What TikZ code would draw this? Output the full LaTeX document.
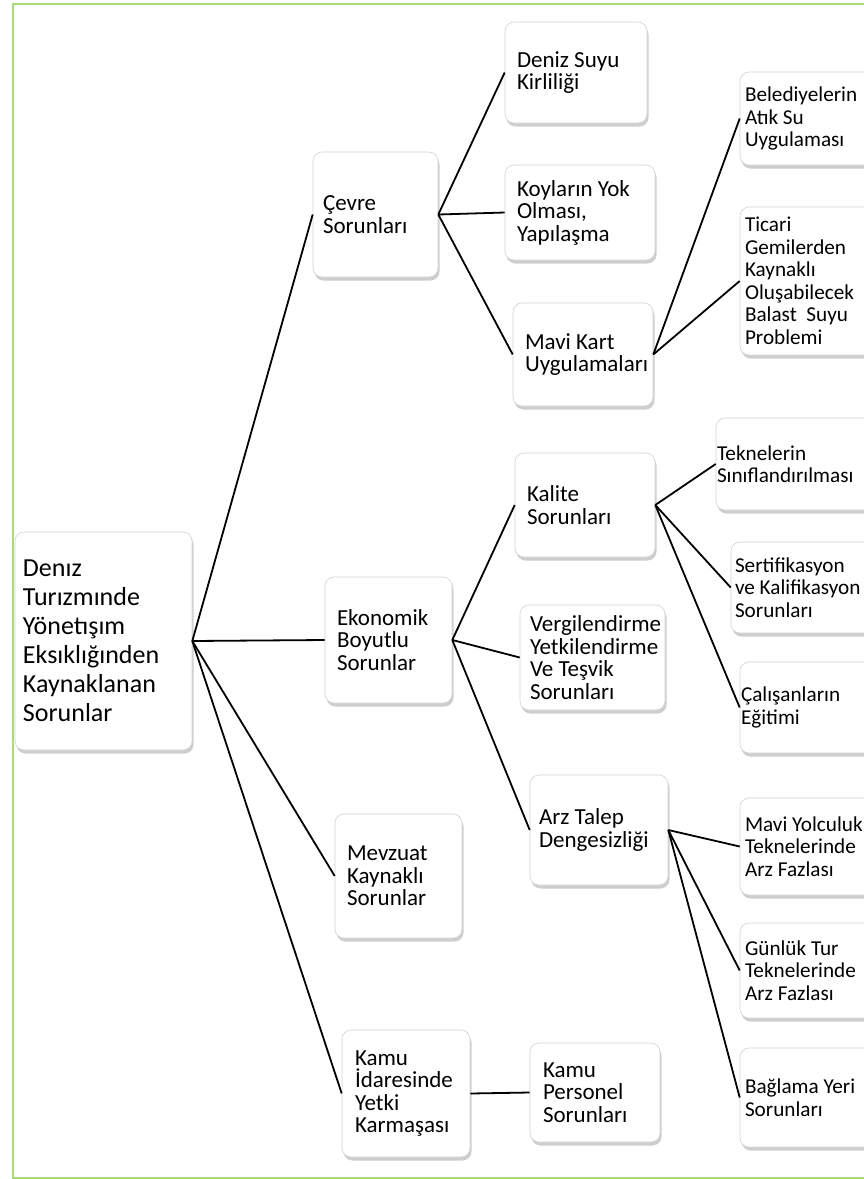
\documentclass[tikz,border=0pt]{standalone}
\usepackage{fontspec}
\setmainfont{Carlito}
\usetikzlibrary{shadows}
\definecolor{frameg}{RGB}{170,218,120}
\definecolor{edgec}{RGB}{210,210,210}
\tikzset{
  box/.style={draw=edgec, line width=0.6pt, fill=white, rounded corners=9pt,
    drop shadow={shadow xshift=1.5pt, shadow yshift=-3.5pt, opacity=0.35, fill=black!55},
    inner ysep=2pt, align=flush left, font=\fontsize{23}{22.5}\selectfont},
  rootbox/.style={box, font=\fontsize{26}{29}\selectfont},
  leafbox/.style={box, font=\fontsize{21.2}{22.5}\selectfont},
  link/.style={line width=1.8pt, draw=black},
  framel/.style={draw=frameg, line width=2pt}
}
% style, name, x1, y1, x2, y2, pad, text
\newcommand\bx[8][box]{%
  \pgfmathsetmacro\bxw{#5-#3}%
  \pgfmathsetmacro\bxh{#6-#4}%
  \pgfmathsetmacro\bxcx{(#3+#5)/2}%
  \pgfmathsetmacro\bxcy{(#4+#6)/2}%
  \pgfmathsetmacro\bxtw{#5-#3-2*#7}%
  \node[#1, minimum width=\bxw pt, minimum height=\bxh pt, text width=\bxtw pt, inner xsep=#7pt] (#2) at (\bxcx,\bxcy) {#8};}
\begin{document}
\begin{tikzpicture}[x=1pt,y=-1pt]
\useasboundingbox (0,0) rectangle (864,1179);
\fill[white] (0,0) rectangle (864,1179);
\draw[framel] (890,4) -- (13,4) -- (13,1178) -- (890,1178);

\bx[rootbox]{root}{15}{532}{192}{750}{8}{Denız\\Turızmınde\\Yönetışım\\Eksıklığınden\\Kaynaklanan\\Sorunlar}
\bx{cevre}{313}{152}{438}{277}{10}{Çevre\\Sorunları}
\bx{eko}{325}{577}{452}{703}{12}{Ekonomik\\Boyutlu\\Sorunlar}
\bx{mev}{335}{814}{462}{938}{12}{Mevzuat\\Kaynaklı\\Sorunlar}
\bx{kamu}{342}{1030}{470}{1157}{13}{Kamu\\İdaresinde\\Yetki\\Karmaşası}

\bx{dsk}{505}{22}{647}{123}{12}{Deniz Suyu\\Kirliliği}
\bx{koy}{505}{165}{655}{260}{12}{Koyların Yok\\Olması,\\Yapılaşma}
\bx{mkart}{513}{303}{653}{406}{12}{Mavi Kart\\Uygulamaları}
\bx{kalite}{515}{453}{655}{557}{12}{Kalite\\Sorunları}
\bx{verg}{520}{605}{665}{710}{10}{Vergilendirme\\Yetkilendirme\\Ve Teşvik\\Sorunları}
\bx{arz}{530}{775}{668}{885}{9}{Arz Talep\\Dengesizliği}
\bx{kper}{530}{1043}{660}{1142}{13}{Kamu\\Personel\\Sorunları}

\bx[leafbox]{bel}{740}{72}{890}{165}{5}{Belediyelerin\\Atık Su\\Uygulaması}
\bx[leafbox]{tic}{740}{207}{890}{355}{5}{Ticari\\Gemilerden\\Kaynaklı\\Oluşabilecek\\Balast\ \ Suyu\\Problemi}
\bx[leafbox]{tek}{716}{418}{890}{510}{1}{Teknelerin\\Sınıflandırılması}
\bx[leafbox]{sert}{731}{542}{890}{633}{4}{Sertifikasyon\\ve Kalifikasyon\\Sorunları}
\bx[leafbox]{cal}{740}{662}{890}{753}{1}{Çalışanların\\Eğitimi}
\bx[leafbox]{myol}{740}{798}{890}{895}{5}{Mavi Yolculuk\\Teknelerinde\\Arz Fazlası}
\bx[leafbox]{gun}{740}{923}{890}{1018}{5}{Günlük Tur\\Teknelerinde\\Arz Fazlası}
\bx[leafbox]{bag}{740}{1048}{890}{1147}{5}{Bağlama Yeri\\Sorunları}

\draw[link] (root.east) -- (cevre.west);
\draw[link] (root.east) -- (eko.west);
\draw[link] (root.east) -- (mev.west);
\draw[link] (root.east) -- (kamu.west);
\draw[link] (cevre.east) -- (dsk.west);
\draw[link] (cevre.east) -- (koy.west);
\draw[link] (cevre.east) -- (mkart.west);
\draw[link] (mkart.east) -- (bel.west);
\draw[link] (mkart.east) -- (tic.west);
\draw[link] (eko.east) -- (kalite.west);
\draw[link] (eko.east) -- (verg.west);
\draw[link] (eko.east) -- (arz.west);
\draw[link] (kalite.east) -- (tek.west);
\draw[link] (kalite.east) -- (sert.west);
\draw[link] (kalite.east) -- (cal.west);
\draw[link] (arz.east) -- (myol.west);
\draw[link] (arz.east) -- (gun.west);
\draw[link] (arz.east) -- (bag.west);
\draw[link] (kamu.east) -- (kper.west);
\end{tikzpicture}
\end{document}
